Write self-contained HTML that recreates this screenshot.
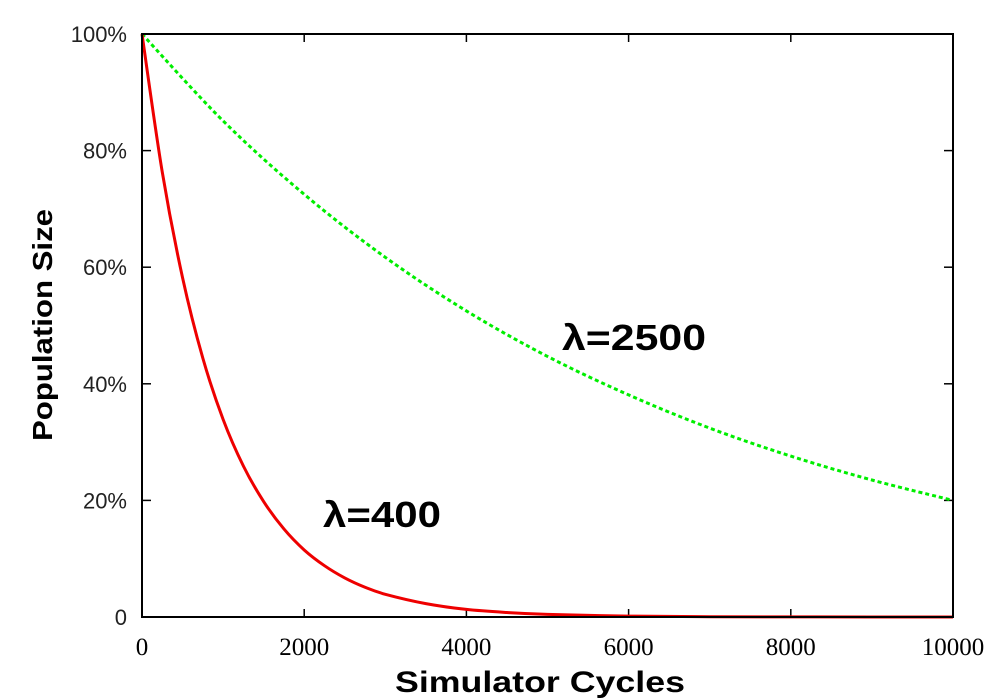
<!DOCTYPE html>
<html><head><meta charset="utf-8"><style>
html,body{margin:0;padding:0;background:#fff;}
svg{display:block;}
</style></head><body>
<svg id="chart" width="1000" height="700" xmlns="http://www.w3.org/2000/svg"></svg>
<script>
const xTicks=[0,2000,4000,6000,8000,10000];
const xTickLabels=["0","2000","4000","6000","8000","10000"];
const yTicks=[0,0.2,0.4,0.6,0.8,1];
const yTickLabels=["0","20%","40%","60%","80%","100%"];
const redX=[0,250,500,750,1000,1250,1500,1750,2000,2250,2500,2750,3000,3500,4000,4500,5000,6000,7000,8000,9000,10000];
const redY=[1,0.763,0.582,0.444,0.339,0.259,0.198,0.151,0.115,0.088,0.067,0.051,0.039,0.023,0.013,0.0077,0.0045,0.0015,0.0005,0.0002,0.0001,0];
const greenX=[0,1000,2000,3000,4000,5000,6000,7000,8000,9000,10000];
const greenY=[1,0.851,0.725,0.617,0.525,0.447,0.381,0.324,0.276,0.235,0.200];

const svg=document.getElementById('chart');
const NS='http://www.w3.org/2000/svg';
const L=142,R=953,T=34,B=617;
const sx=v=>L+(v-0)/(10000-0)*(R-L);
const sy=v=>B-v*(B-T);
function mk(tag,attrs,parent){const e=document.createElementNS(NS,tag);for(const k in attrs)e.setAttribute(k,attrs[k]);(parent||svg).appendChild(e);return e;}

xTicks.forEach((v,i)=>{
  const t=mk('line',{x1:sx(v),x2:sx(v),y1:B,y2:B-8,stroke:'#000','stroke-width':1.5});
  
  
  const t2=mk('line',{x1:sx(v),x2:sx(v),y1:T,y2:T+8,stroke:'#000','stroke-width':1.5});
  
  
  const lb=mk('text',{x:sx(v),y:655,'text-anchor':'middle','font-family':'Liberation Serif, serif','font-size':25,fill:'#000'});
  lb.textContent=xTickLabels[i];
  
  
});
yTicks.forEach((v,i)=>{
  const t=mk('line',{x1:L,x2:L+9,y1:sy(v),y2:sy(v),stroke:'#000','stroke-width':1.5});
  
  
  const t2=mk('line',{x1:R,x2:R-9,y1:sy(v),y2:sy(v),stroke:'#000','stroke-width':1.5});
  
  
  const lb=mk('text',{x:127,y:sy(v)+8,'text-anchor':'end','font-family':'Liberation Sans, sans-serif','font-size':22,fill:'#222'});
  lb.textContent=yTickLabels[i];
  
  
});

function smoothPath(xs,ys){
  const p=xs.map((x,i)=>[sx(x),sy(ys[i])]);
  let d='M'+p[0][0]+','+p[0][1];
  for(let i=0;i<p.length-1;i++){
    const p0=p[Math.max(0,i-1)],p1=p[i],p2=p[i+1],p3=p[Math.min(p.length-1,i+2)];
    const c1=[p1[0]+(p2[0]-p0[0])/6,p1[1]+(p2[1]-p0[1])/6];
    const c2=[p2[0]-(p3[0]-p1[0])/6,p2[1]-(p3[1]-p1[1])/6];
    d+=' C'+c1[0]+','+c1[1]+' '+c2[0]+','+c2[1]+' '+p2[0]+','+p2[1];
  }
  return d;
}
const g=mk('path',{d:smoothPath(greenX,greenY),fill:'none',stroke:'#00ee00','stroke-width':3,'stroke-dasharray':'4,3'});


const r=mk('path',{d:smoothPath(redX,redY),fill:'none',stroke:'#ee0000','stroke-width':3});



const frame=mk('rect',{x:L,y:T,width:R-L,height:B-T,fill:'none',stroke:'#000','stroke-width':2});



const a1=mk('text',{x:562,y:350,'font-family':'Liberation Sans, sans-serif','font-weight':'bold','font-size':36,textLength:144,lengthAdjust:'spacingAndGlyphs'});
a1.textContent='λ=2500';


const a2=mk('text',{x:323,y:527,'font-family':'Liberation Sans, sans-serif','font-weight':'bold','font-size':36,textLength:118,lengthAdjust:'spacingAndGlyphs'});
a2.textContent='λ=400';



const xt=mk('text',{x:540,y:692,'text-anchor':'middle','font-family':'Liberation Sans, sans-serif','font-weight':'bold','font-size':30,textLength:290,lengthAdjust:'spacingAndGlyphs'});
xt.textContent='Simulator Cycles';


const yt=mk('text',{x:0,y:0,'text-anchor':'middle','font-family':'Liberation Sans, sans-serif','font-weight':'bold','font-size':28,textLength:232,lengthAdjust:'spacingAndGlyphs',transform:'translate(52,325) rotate(-90)'});
yt.textContent='Population Size';


</script>
</body></html>
